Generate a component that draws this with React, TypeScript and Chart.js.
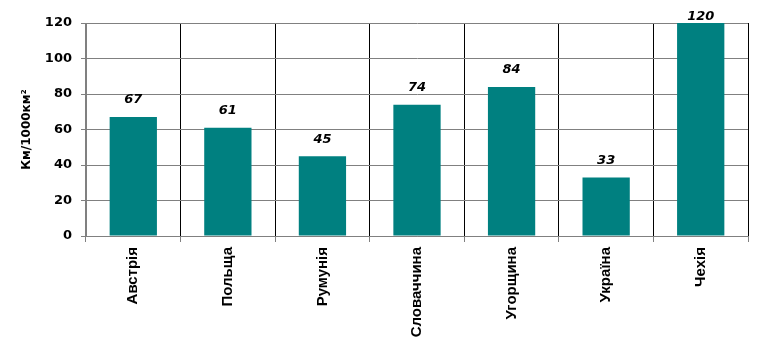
import React, { useEffect, useRef } from "react";
import { Chart, registerables } from "chart.js";

Chart.register(...registerables);

const categories = ["Австрія", "Польща", "Румунія", "Словаччина", "Угорщина", "Україна", "Чехія"];
const values = [67, 61, 45, 74, 84, 33, 120];
const valueLabels = ["67", "61", "45", "74", "84", "33", "120"];
const yTicks = [0, 20, 40, 60, 80, 100, 120];
const yTitle = "Км/1000км²";

const labelPlugin = {
  id: "valueLabels",
  afterDatasetsDraw(chart: any) {
    const ctx = chart.ctx;
    const meta = chart.getDatasetMeta(0);
    ctx.save();
    ctx.font = "italic bold 13px 'DejaVu Sans'";
    ctx.fillStyle = "#000";
    ctx.textAlign = "center";
    ctx.textBaseline = "middle";
    meta.data.forEach((bar: any, i: number) => {
      const y = Math.max(bar.y - 17, 17);
      ctx.fillText(valueLabels[i], bar.x, y);
    });
    ctx.restore();
  },
};

export default function App() {
  const ref = useRef<HTMLCanvasElement>(null);
  useEffect(() => {
    document.body.style.margin = "0";
    const chart = new Chart(ref.current!, {
      type: "bar",
      data: {
        labels: categories,
        datasets: [
          {
            data: values,
            backgroundColor: "#008080",
            borderWidth: 0,
            categoryPercentage: 1,
            barPercentage: 0.5,
          },
        ],
      },
      options: {
        animation: false,
        responsive: false,
        maintainAspectRatio: false,
        layout: { padding: { left: 0, right: 30, top: 23, bottom: 0 } },
        plugins: { legend: { display: false }, tooltip: { enabled: false } },
        scales: {
          x: {
            grid: {
              offset: true,
              color: (c: any) => (c.index === 0 ? "#808080" : "#000000"),
              tickColor: "#808080",
              tickLength: 6,
              lineWidth: 1,
            },
            border: { color: "#808080" },
            ticks: {
              minRotation: 90,
              maxRotation: 90,
              padding: 5,
              color: "#000",
              font: { family: "'Liberation Sans'", size: 15, weight: "bold" },
            },
            afterFit: (s: any) => {
              s.height = 116;
            },
          },
          y: {
            min: 0,
            max: 120,
            afterBuildTicks: (s: any) => {
              s.ticks = yTicks.map((v) => ({ value: v }));
            },
            grid: { color: "#808080", tickColor: "#808080", tickLength: 5 },
            border: { color: "#808080" },
            ticks: {
              padding: 9,
              color: "#000",
              font: { family: "'DejaVu Sans'", size: 13, weight: "bold" },
            },
            title: {
              display: true,
              text: yTitle,
              color: "#000",
              font: { family: "'DejaVu Sans'", size: 12, weight: "bold" },
              padding: { top: 20, bottom: 0 },
            },
            afterFit: (s: any) => {
              s.width = 86;
            },
          },
        },
      },
      plugins: [labelPlugin],
    });
    return () => chart.destroy();
  }, []);
  return (
    <div style={{ position: "relative", width: 778, height: 352 }}>
      <canvas ref={ref} width={778} height={352} style={{ width: 778, height: 352 }} />
    </div>
  );
}
